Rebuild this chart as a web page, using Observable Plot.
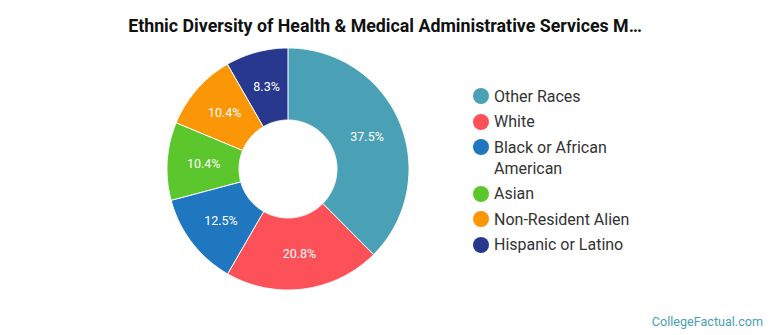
<!DOCTYPE html>
<html>
<head>
<meta charset="utf-8">
<script src="https://cdn.jsdelivr.net/npm/d3@7"></script>
<script src="https://cdn.jsdelivr.net/npm/@observablehq/plot@0.6"></script>
<style>
  html, body { margin: 0; padding: 0; background: #fff; }
  #wrap { position: relative; width: 770px; height: 335px; overflow: hidden; font-family: Roboto, "Open Sans", sans-serif; }
  #title { position: absolute; left: 0; width: 770px; top: 15px; text-align: center; font-size: 17.8px; font-weight: 700; color: #111; white-space: nowrap; }
  #chart { position: absolute; left: 0; top: 0; }
  .leg { position: absolute; left: 473px; display: flex; align-items: flex-start; font-size: 16px; color: #333; line-height: 21px; }
  .sw { width: 16px; height: 16px; border-radius: 50%; margin-right: 5px; margin-top: 2.5px; flex: none; }
  #credit { position: absolute; right: 7px; top: 314px; font-size: 12.6px; color: #4a9fb5; }
</style>
</head>
<body>
<div id="wrap">
  <div id="chart"></div>
  <div id="title">Ethnic Diversity of Health &amp; Medical Administrative Services M…</div>
  <div id="credit">CollegeFactual.com</div>
</div>
<script>
const categories = ["Other Races", "White", "Black or African American", "Asian", "Non-Resident Alien", "Hispanic or Latino"];
const legendLabels = [["Other Races"], ["White"], ["Black or African", "American"], ["Asian"], ["Non-Resident Alien"], ["Hispanic or Latino"]];
const shares = [37.5, 20.8, 12.5, 10.4, 10.4, 8.3];
const colors = ["#4aa0b5", "#fc5158", "#1f77c0", "#5cc72c", "#fb9606", "#29388f"];

const W = 770, H = 335;
const cx = 288, cy = 169, R = 121, r0 = 49;
const inner = r0 / R;

// angles from d3.pie (clockwise from 12 o'clock), in given order
const pie = d3.pie().sort(null).value(d => d.v)(categories.map((c, i) => ({c, v: shares[i]})));

const ring = [];
const labels = [];
pie.forEach(p => {
  const a0 = p.startAngle, a1 = p.endAngle;
  const n = Math.max(2, Math.ceil((a1 - a0) / (Math.PI / 360)));
  for (let k = 0; k <= n; k++) {
    const a = a0 + (a1 - a0) * k / n;
    ring.push({cat: p.data.c, ox: Math.sin(a), oy: Math.cos(a), ix: inner * Math.sin(a), iy: inner * Math.cos(a)});
  }
  const am = (a0 + a1) / 2, rm = (1 + inner) / 2;
  labels.push({cat: p.data.c, x: rm * Math.sin(am), y: rm * Math.cos(am), text: p.data.v.toFixed(1) + "%"});
});

const plot = Plot.plot({
  width: W,
  height: H,
  margin: 0,
  x: {type: "linear", domain: [-1, 1], range: [cx - R, cx + R], axis: null},
  y: {type: "linear", domain: [-1, 1], range: [cy + R, cy - R], axis: null},
  color: {domain: categories, range: colors},
  style: {fontFamily: "Roboto, sans-serif", background: "transparent"},
  marks: [
    Plot.area(ring, {x1: "ox", y1: "oy", x2: "ix", y2: "iy", z: "cat", fill: "cat", stroke: "white", strokeWidth: 1, curve: "linear"}),
    Plot.text(labels, {x: "x", y: "y", text: "text", fill: "white", fontSize: 12.5})
  ]
});
document.getElementById("chart").appendChild(plot);

// legend
const wrap = document.getElementById("wrap");
let yc = 96; // center of first line
legendLabels.forEach((lines, i) => {
  const d = document.createElement("div");
  d.className = "leg";
  d.style.top = (yc - 10.5) + "px";
  const sw = document.createElement("div");
  sw.className = "sw";
  sw.style.background = colors[i];
  const t = document.createElement("div");
  t.innerHTML = lines.join("<br>");
  d.appendChild(sw); d.appendChild(t);
  wrap.appendChild(d);
  yc += 25.5 + 21 * (lines.length - 1);
});
</script>
</body>
</html>
